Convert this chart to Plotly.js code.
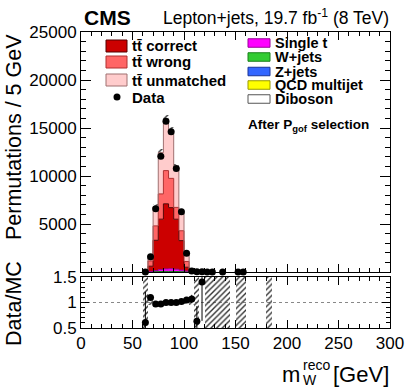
<!DOCTYPE html>
<html>
<head>
<meta charset="utf-8">
<script src="https://cdn.plot.ly/plotly-3.0.1.min.js"></script>
<style>
  html, body { margin: 0; padding: 0; background: #fff; }
  #chart { width: 407px; height: 391px; }
</style>
</head>
<body>
<div id="chart"></div>
<script>
// bin lower edges (5 GeV bins) for the stacked MC
const binLo = [60, 65, 70, 75, 80, 85, 90, 95, 100, 105, 110, 115];
const binWidth = 5;

// MC components, permutations per bin
const diboson     = [0, 1, 3, 5, 8, 8, 6, 3, 1, 0, 0, 0];
const qcd         = [0, 5, 10, 15, 15, 15, 10, 5, 5, 0, 0, 0];
const zJets       = [0, 2, 5, 8, 10, 10, 8, 5, 3, 1, 0, 0];
const wJets       = [1, 5, 15, 25, 30, 30, 25, 15, 8, 2, 1, 1];
const singleT     = [5, 40, 120, 200, 260, 280, 240, 170, 80, 15, 3, 1];
const ttCorrect   = [10, 550, 3150, 5250, 6780, 6360, 5210, 3070, 400, 10, 5, 2];
const ttWrong     = [15, 550, 1500, 2630, 3460, 3050, 1230, 1030, 600, 30, 10, 4];
const ttUnmatched = [20, 300, 2000, 4300, 5340, 4950, 4170, 1900, 760, 40, 20, 6];
const mcErr       = [10, 60, 250, 350, 400, 380, 320, 220, 80, 20, 15, 8];

// data points
const dataX = [62.5, 67.5, 72.5, 77.5, 82.5, 87.5, 92.5, 97.5, 102.5, 107.5, 112.5, 117.5, 122.5, 127.5, 137.5, 152.5, 157.5];
const dataY = [10, 1600, 6600, 12060, 15700, 14600, 10770, 6280, 1950, 110, 25, 20, 10, 8, 5, 3, 3];

// ratio panel
const ratioX     = [62.5, 67.5, 72.5, 77.5, 82.5, 87.5, 92.5, 97.5, 102.5, 107.5, 112.5, 117.5];
const ratioY     = [0.61, 1.10, 0.97, 0.97, 1.00, 1.00, 1.00, 1.02, 1.05, 1.07, 0.63, 1.40];
const ratioErrUp = [0.6, 0.04, 0.02, 0.015, 0.01, 0.01, 0.015, 0.02, 0.03, 0.08, 0.3, 0.5];
const ratioErrDn = [0.6, 0.04, 0.02, 0.015, 0.01, 0.01, 0.015, 0.02, 0.03, 0.08, 0.3, 0.76];

// MC uncertainty band in the ratio
const bandX  = [62.5, 67.5, 72.5, 77.5, 82.5, 87.5, 92.5, 97.5, 102.5, 107.5, 112.5, 122.5, 127.5, 132.5, 137.5, 142.5, 152.5, 157.5, 182.5];
const bandLo = [0.5, 0.96, 0.985, 0.99, 0.99, 0.99, 0.99, 0.985, 0.97, 0.96, 0.5, 0.5, 0.5, 0.5, 0.5, 0.5, 0.5, 0.5, 0.5];
const bandHi = [1.5, 1.04, 1.015, 1.01, 1.01, 1.01, 1.01, 1.015, 1.06, 1.10, 1.5, 1.5, 1.5, 1.5, 1.5, 1.5, 1.5, 1.5, 1.5];

// page geometry (px) -> paper coords
const W = 407, H = 391, L = 81, R = 17, T = 32, B = 63;
const pw = W - L - R, ph = H - T - B;
const px = p => (p - L) / pw;
const py = p => 1 - (p - T) / ph;

const FONT = 'Liberation Sans, Arial, Helvetica, sans-serif';

// stack layers, bottom first
const layers = [
    { name: 'Diboson',       vals: diboson,     fill: '#ffffff', line: '#555555' },
    { name: 'QCD multijet',  vals: qcd,         fill: '#ffff00', line: '#999900' },
    { name: 'Z+jets',        vals: zJets,       fill: '#3366ff', line: '#1a3399' },
    { name: 'W+jets',        vals: wJets,       fill: '#33cc33', line: '#1a801a' },
    { name: 'Single t',      vals: singleT,     fill: '#ff00ff', line: '#990099' },
    { name: 'tt correct',    vals: ttCorrect,   fill: '#cc0000', line: '#550000' },
    { name: 'tt wrong',      vals: ttWrong,     fill: '#ff6666', line: '#b03030' },
    { name: 'tt unmatched',  vals: ttUnmatched, fill: '#ffcccc', line: '#a07070' }
];

// step path for a histogram with given bin contents
function stepPath(vals) {
    const x = [binLo[0]], y = [0];
    vals.forEach((v, i) => { x.push(binLo[i]); y.push(v); });
    x.push(binLo[binLo.length - 1] + binWidth);
    y.push(0);
    return { x, y };
}

const traces = [];
let cum = binLo.map(() => 0);
layers.forEach((ly, k) => {
    cum = cum.map((c, i) => c + ly.vals[i]);
    const p = stepPath(cum);
    traces.push({
        x: p.x, y: p.y, xaxis: 'x2', yaxis: 'y2',
        type: 'scatter', mode: 'lines',
        line: { shape: 'hv', color: ly.line, width: 1 },
        fill: k === 0 ? 'tozeroy' : 'tonexty',
        fillcolor: ly.fill,
        name: ly.name, showlegend: false, hoverinfo: 'skip'
    });
});
const mcTotal = cum;

// MC uncertainty on the stack
traces.push({
    x: binLo.map(b => b + binWidth / 2),
    y: mcErr.map(e => 2 * e),
    base: mcTotal.map((t, i) => t - mcErr[i]),
    width: binWidth,
    xaxis: 'x2', yaxis: 'y2', type: 'bar',
    marker: { color: 'rgba(0,0,0,0)', line: { width: 0 },
              pattern: { shape: '/', fgcolor: '#333', bgcolor: 'rgba(0,0,0,0)', size: 4, solidity: 0.35 } },
    showlegend: false, hoverinfo: 'skip'
});

// data
traces.push({
    x: dataX, y: dataY, xaxis: 'x2', yaxis: 'y2',
    type: 'scatter', mode: 'markers',
    marker: { color: '#000', size: 7 },
    cliponaxis: false, showlegend: false, name: 'Data'
});

// ratio band
traces.push({
    x: bandX, y: bandHi.map((h, i) => h - bandLo[i]), base: bandLo,
    width: binWidth, xaxis: 'x', yaxis: 'y', type: 'bar',
    marker: { color: 'rgba(0,0,0,0)', line: { width: 0 },
              pattern: { shape: '/', fgcolor: '#333', bgcolor: 'rgba(0,0,0,0)', size: 4, solidity: 0.35 } },
    showlegend: false, hoverinfo: 'skip'
});

// ratio points
traces.push({
    x: ratioX, y: ratioY, xaxis: 'x', yaxis: 'y',
    type: 'scatter', mode: 'markers',
    marker: { color: '#000', size: 7 },
    error_y: { type: 'data', symmetric: false, array: ratioErrUp, arrayminus: ratioErrDn,
               color: '#000', thickness: 1, width: 0 },
    cliponaxis: true, showlegend: false
});

const axisCommon = {
    showline: true, linecolor: '#000', linewidth: 1, mirror: 'allticks',
    ticks: 'inside', tickcolor: '#000', showgrid: false, zeroline: false,
    tickfont: { family: FONT, size: 17, color: '#000' }
};

// legend boxes, text and labels
const shapes = [
    { type: 'line', xref: 'x', yref: 'y', x0: 0, x1: 300, y0: 1, y1: 1,
      line: { color: '#888', width: 1, dash: 'dot' }, layer: 'below' }
];
const annotations = [];

function legendBox(x0, x1, yc, h, fill, line) {
    shapes.push({ type: 'rect', xref: 'paper', yref: 'paper',
        x0: px(x0), x1: px(x1), y0: py(yc + h / 2), y1: py(yc - h / 2),
        fillcolor: fill, line: { color: line, width: 1 } });
}
function label(text, xp, yp, size, anchor, extra) {
    annotations.push(Object.assign({
        text: text, xref: 'paper', yref: 'paper', x: px(xp), y: py(yp),
        xanchor: anchor || 'left', yanchor: 'middle', showarrow: false,
        font: { family: FONT, size: size, color: '#000' }
    }, extra || {}));
}

const leftRows = [
    { t: '<b>tt̄ correct</b>',   y: 46, fill: '#cc0000', line: '#550000' },
    { t: '<b>tt̄ wrong</b>',     y: 62, fill: '#ff6666', line: '#b03030' },
    { t: '<b>tt̄ unmatched</b>', y: 80, fill: '#ffcccc', line: '#a07070' }
];
leftRows.forEach(r => {
    legendBox(106, 127, r.y, 12, r.fill, r.line);
    label(r.t, 130, r.y, 15);
});
shapes.push({ type: 'circle', xref: 'paper', yref: 'paper',
    x0: px(113.5), x1: px(120.5), y0: py(100.5), y1: py(93.5),
    fillcolor: '#000', line: { color: '#000', width: 0 } });
label('<b>Data</b>', 130, 97, 15);

const rightRows = [
    { t: '<b>Single t</b>',     y: 43,   fill: '#ff00ff', line: '#990099' },
    { t: '<b>W+jets</b>',       y: 57,   fill: '#33cc33', line: '#1a801a' },
    { t: '<b>Z+jets</b>',       y: 71.5, fill: '#3366ff', line: '#1a3399' },
    { t: '<b>QCD multijet</b>', y: 85,   fill: '#ffff00', line: '#999900' },
    { t: '<b>Diboson</b>',      y: 99,   fill: '#ffffff', line: '#555555' }
];
rightRows.forEach(r => {
    legendBox(248, 270, r.y, 8.5, r.fill, r.line);
    label(r.t, 273, r.y, 14.5);
});
label('<b>After P<sub>gof</sub> selection</b>', 246, 125, 13.5);

// header
label('<b>CMS</b>', 82, 17, 21);
label('Lepton+jets, 19.7 fb<sup>-1</sup> (8 TeV)', 391, 17, 17.5, 'right');

// axis titles
label('Permutations / 5 GeV', 14, 32, 21.5, 'center', { textangle: -90, yanchor: 'top' });
label('Data/MC', 14, 304, 21.5, 'center', { textangle: -90 });
label('m', 302, 374, 22, 'right');
label('reco', 301, 365, 14, 'left');
label('W', 301, 380, 14, 'left');
label('[GeV]', 391, 374, 22, 'right');

const layout = {
    width: W, height: H,
    margin: { l: L, r: R, t: T, b: B, pad: 0 },
    paper_bgcolor: '#fff', plot_bgcolor: '#fff',
    showlegend: false, barmode: 'overlay', bargap: 0,
    font: { family: FONT, color: '#000' },
    xaxis: Object.assign({}, axisCommon, {
        domain: [0, 1], anchor: 'y', range: [0, 300],
        tickmode: 'linear', tick0: 0, dtick: 50, ticklen: 8,
        minor: { ticks: 'inside', dtick: 10, ticklen: 4, tickcolor: '#000' }
    }),
    yaxis: Object.assign({}, axisCommon, {
        domain: [0, py(277)], anchor: 'x', range: [0.5, 1.5],
        tickvals: [0.5, 1, 1.5], ticktext: ['0.5', '1', '1.5'], ticklen: 8,
        minor: { ticks: 'inside', dtick: 0.1, ticklen: 4, tickcolor: '#000' }
    }),
    xaxis2: Object.assign({}, axisCommon, {
        domain: [0, 1], anchor: 'y2', matches: 'x', range: [0, 300],
        tickmode: 'linear', tick0: 0, dtick: 50, ticklen: 8, showticklabels: false,
        minor: { ticks: 'inside', dtick: 10, ticklen: 4, tickcolor: '#000' }
    }),
    yaxis2: Object.assign({}, axisCommon, {
        domain: [py(272), 1], anchor: 'x2', range: [0, 25000],
        tickvals: [5000, 10000, 15000, 20000, 25000], tickformat: 'd', ticklen: 10,
        minor: { ticks: 'inside', dtick: 1000, ticklen: 5, tickcolor: '#000' }
    }),
    shapes: shapes,
    annotations: annotations
};

Plotly.newPlot('chart', traces, layout, { staticPlot: true, displayModeBar: false });
</script>
</body>
</html>
